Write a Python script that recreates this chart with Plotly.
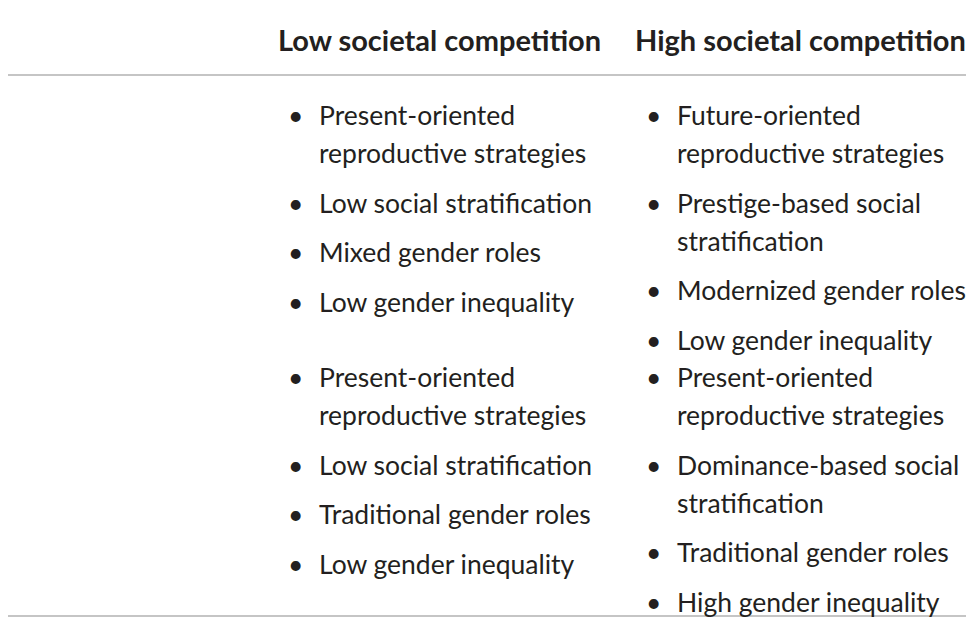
import plotly.graph_objects as go

# Table content
col_headers = ["Low societal competition", "High societal competition"]
row_labels = ["Low extrinsic risks", "High extrinsic risks"]
low_comp_low_risk = ["Present-oriented\nreproductive strategies", "Low social stratification",
                     "Mixed gender roles", "Low gender inequality"]
high_comp_low_risk = ["Future-oriented\nreproductive strategies", "Prestige-based social\nstratification",
                      "Modernized gender roles", "Low gender inequality"]
low_comp_high_risk = ["Present-oriented\nreproductive strategies", "Low social stratification",
                      "Traditional gender roles", "Low gender inequality"]
high_comp_high_risk = ["Present-oriented\nreproductive strategies", "Dominance-based social\nstratification",
                       "Traditional gender roles", "High gender inequality"]
cells = [[low_comp_low_risk, high_comp_low_risk], [low_comp_high_risk, high_comp_high_risk]]

W, H = 974, 618
OFF = 9  # page body margin compensation
FONT = "Lato"
COLOR = "#231f20"
SIZE = 26.5
HEAD_SIZE = 29
row_top = [116, 378]
col_bullet_x = [295, 653]
col_text_x = [318, 676]
header_x = [277, 634]
line_gap = 38
item_gap = 49.5

fig = go.Figure()
ann = []


def add_text(x, y, text, bold=False):
    ann.append(dict(x=x - OFF, y=y - OFF, xref="x", yref="y",
                    text=f"<b>{text}</b>" if bold else text,
                    showarrow=False, xanchor="left", yanchor="middle",
                    font=dict(family=FONT, size=HEAD_SIZE if bold else SIZE, color=COLOR)))


for hx, h in zip(header_x, col_headers):
    add_text(hx, 40, h, bold=True)

for r, label in enumerate(row_labels):
    add_text(2, row_top[r], label)
    for c in range(2):
        y = row_top[r]
        for item in cells[r][c]:
            lines = item.split("\n")
            add_text(col_bullet_x[c] - 8, y, "•")
            for i, ln in enumerate(lines):
                add_text(col_text_x[c], y + i * line_gap, ln)
            y += (len(lines) - 1) * line_gap + item_gap

shapes = []
for yl in [1, 76, 617]:
    shapes.append(dict(type="line", xref="x", yref="y", x0=-OFF, x1=W, y0=yl - OFF, y1=yl - OFF,
                       line=dict(color="#8c8c8c", width=1.2)))

fig.update_layout(
    width=W, height=H, margin=dict(l=0, r=0, t=0, b=0),
    paper_bgcolor="white", plot_bgcolor="white",
    xaxis=dict(range=[0, W], visible=False, fixedrange=True),
    yaxis=dict(range=[H, 0], visible=False, fixedrange=True),
    annotations=ann, shapes=shapes, showlegend=False,
)

fig.write_html("out.html")
